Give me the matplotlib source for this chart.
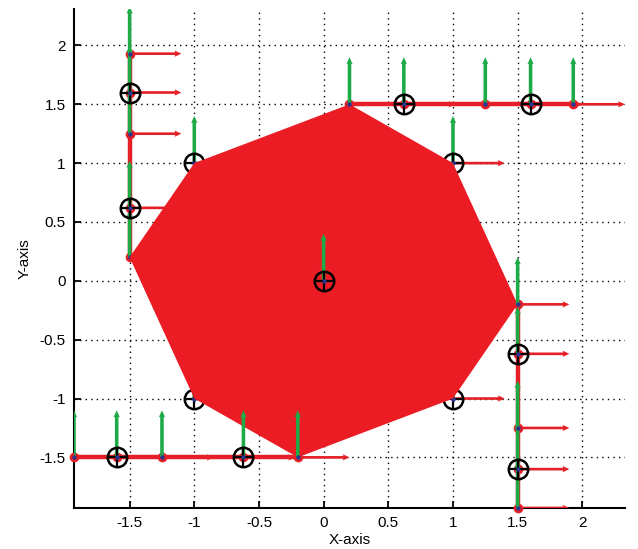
import matplotlib
matplotlib.use("Agg")
import matplotlib.pyplot as plt

plt.rcParams["font.family"] = ["Liberation Sans", "DejaVu Sans"]

# body outline (filled octagon)
POLY_X = [0.2, 1.0, 1.5, 1.0, -0.2, -1.0, -1.5, -1.0]
POLY_Y = [1.5, 1.0, -0.2, -1.0, -1.5, -1.0, 0.2, 1.0]

# sample points along the four boundary lines
TOP_X = [0.2, 0.62, 1.25, 1.6, 1.93]
TOP_Y = [1.5, 1.5, 1.5, 1.5, 1.5]
RIGHT_X = [1.5, 1.5, 1.5, 1.5, 1.5]
RIGHT_Y = [-0.2, -0.62, -1.25, -1.6, -1.93]
BOTTOM_X = [-0.2, -0.62, -1.25, -1.6, -1.93]
BOTTOM_Y = [-1.5, -1.5, -1.5, -1.5, -1.5]
LEFT_X = [-1.5, -1.5, -1.5, -1.5, -1.5]
LEFT_Y = [0.2, 0.62, 1.25, 1.6, 1.93]

# octagon corner frames and centre
CORNER_X = [1.0, 1.0, -1.0, -1.0]
CORNER_Y = [1.0, -1.0, -1.0, 1.0]
CENTER_X = [0.0]
CENTER_Y = [0.0]

# circled reference points
CIRCLE_X = [0.62, 1.6, 1.5, 1.5, -0.62, -1.6, -1.5, -1.5, 1.0, 1.0, -1.0, -1.0, 0.0]
CIRCLE_Y = [1.5, 1.5, -0.62, -1.6, -1.5, -1.5, 0.62, 1.6, 1.0, -1.0, -1.0, 1.0, 0.0]

ARROW_LEN = 0.4

RED = "#e41f26"
POLY_RED = "#ec1c24"
GREEN = "#1faa48"
BLUE = "#2b3590"

fig = plt.figure(figsize=(6.38, 5.49), dpi=100)
ax = fig.add_axes([0.116, 0.0747, 0.8636, 0.909])


def draw_frames(xs, ys, z, line=True, arrows_x=True, arrows_y=True, circles=None):
    n = len(xs)
    if line:
        ax.plot(xs, ys, color=RED, lw=3.2, solid_capstyle="butt", zorder=z)
        ax.plot(xs, ys, "o", color=RED, ms=7, mec="none", zorder=z + 0.1,
                clip_on=False)
    if arrows_y:
        ax.quiver(xs, ys, [0] * n, [ARROW_LEN] * n, color=GREEN, angles="xy",
                  scale_units="xy", scale=1, width=0.0065, headwidth=1.8,
                  headlength=2.0, headaxislength=1.8, zorder=z + 0.3)
    if arrows_x:
        ax.quiver(xs, ys, [ARROW_LEN] * n, [0] * n, color=RED, angles="xy",
                  scale_units="xy", scale=1, width=0.0048, headwidth=2.4,
                  headlength=2.6, headaxislength=2.3, zorder=z + 0.2)
    ax.plot(xs, ys, "o", color=BLUE, ms=3.2, mec="none", zorder=z + 0.5,
            clip_on=False)


def draw_circles(xs, ys, z):
    ax.plot(xs, ys, "o", ms=14, mfc="none", mec="black", mew=1.8, zorder=z)
    ax.plot(xs, ys, "+", ms=14, mec="black", mew=1.6, zorder=z)


# frames hidden under the body
draw_frames(LEFT_X, LEFT_Y, 2)
draw_frames(CORNER_X, CORNER_Y, 2, line=False)
draw_circles(CIRCLE_X[6:12], CIRCLE_Y[6:12], 2.4)

ax.fill(POLY_X, POLY_Y, color=POLY_RED, lw=0, zorder=3)

# frames drawn over the body
draw_frames(TOP_X, TOP_Y, 4)
draw_frames(RIGHT_X, RIGHT_Y, 4)
draw_frames(BOTTOM_X, BOTTOM_Y, 4)
draw_frames(CENTER_X, CENTER_Y, 4, line=False, arrows_x=False)
draw_circles(CIRCLE_X[:6], CIRCLE_Y[:6], 4.4)
draw_circles(CIRCLE_X[12:], CIRCLE_Y[12:], 4.4)

ax.set_xlim(-1.93, 2.33)
ax.set_ylim(-1.93, 2.31)
ax.set_xticks([-1.5, -1, -0.5, 0, 0.5, 1, 1.5, 2])
ax.set_yticks([-1.5, -1, -0.5, 0, 0.5, 1, 1.5, 2])
ax.set_xticklabels(["-1.5", "-1", "-0.5", "0", "0.5", "1", "1.5", "2"])
ax.set_yticklabels(["-1.5", "-1", "-0.5", "0", "0.5", "1", "1.5", "2"])
ax.grid(True, color="black", linestyle=(0, (1, 3)), linewidth=1.0, zorder=0)
ax.set_axisbelow(True)

for side in ("top", "right"):
    ax.spines[side].set_visible(False)
for side in ("left", "bottom"):
    ax.spines[side].set_linewidth(1.5)
ax.tick_params(direction="in", length=5, width=1.3, labelsize=11, pad=6)

ax.set_xlabel("X-axis", fontsize=11, labelpad=2)
ax.set_ylabel("Y-axis", fontsize=11, labelpad=6)

fig.savefig("out.png", dpi=100)
